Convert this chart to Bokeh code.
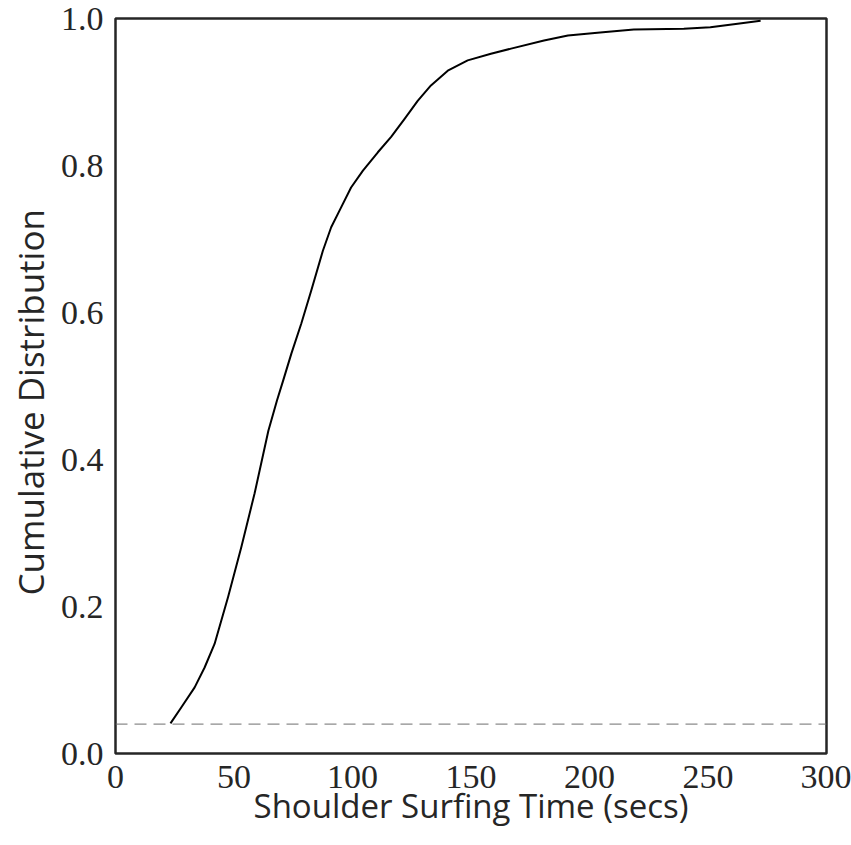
from bokeh.plotting import figure
from bokeh.models import Range1d, Span, FixedTicker, Title
from bokeh.embed import file_html
from bokeh.resources import INLINE

# Data
time_secs = [23.2, 27.8, 33.4, 37.6, 41.8, 47.5, 53.1, 58.7, 64.5, 68.1, 70.7,
             74.2, 78.4, 82.6, 87.5, 91.0, 95.2, 99.4, 104.4, 110.7, 116.3,
             121.9, 127.5, 133.1, 140.2, 148.6, 158.4, 166.9, 180.8, 190.9,
             204.5, 218.7, 239.8, 251.0, 262.5, 272.2]
cdf = [0.041, 0.063, 0.090, 0.117, 0.149, 0.213, 0.281, 0.354, 0.439, 0.480,
       0.507, 0.544, 0.585, 0.630, 0.684, 0.716, 0.743, 0.770, 0.793, 0.818,
       0.839, 0.863, 0.888, 0.909, 0.929, 0.943, 0.952, 0.959, 0.970, 0.977,
       0.981, 0.985, 0.986, 0.988, 0.993, 0.997]
baseline = 0.04
x_ticks = [0, 50, 100, 150, 200, 250, 300]
y_ticks = [0.0, 0.2, 0.4, 0.6, 0.8, 1.0]
x_label = "Shoulder Surfing Time (secs)"
y_label = "Cumulative Distribution"

p = figure(width=851, height=845, output_backend="svg", toolbar_location=None,
           x_range=Range1d(0, 300), y_range=Range1d(0, 1.0),
           min_border_left=114, min_border_right=25, min_border_top=18,
           min_border_bottom=92)

p.line(time_secs, cdf, line_color="black", line_width=2, line_join="round")
p.add_layout(Span(location=baseline, dimension="width", line_color="#6e6e6e",
                  line_width=1, line_dash="12 7"))

p.grid.visible = False
p.outline_line_color = "#262626"
p.outline_line_width = 2.5
p.background_fill_color = "white"
p.border_fill_color = "white"

p.xaxis.ticker = FixedTicker(ticks=x_ticks)
p.yaxis.ticker = FixedTicker(ticks=y_ticks)
p.yaxis.major_label_overrides = {t: f"{t:.1f}" for t in y_ticks}

for ax in (p.xaxis[0], p.yaxis[0]):
    ax.axis_line_color = None
    ax.major_tick_line_color = None
    ax.minor_tick_line_color = None
    ax.major_tick_out = 0
    ax.major_tick_in = 0
    ax.major_label_text_font = "Liberation Serif"
    ax.major_label_text_font_size = "34px"
    ax.major_label_text_color = "#262626"
    ax.axis_label_text_font = "Open Sans"
    ax.axis_label_text_font_style = "normal"
    ax.axis_label_text_color = "#262626"

p.xaxis.axis_label = x_label
p.xaxis.axis_label_text_font_size = "33px"
p.xaxis.major_label_standoff = 12
p.yaxis.major_label_standoff = 12
p.xaxis.axis_label_standoff = -8

# y label as a left-side title, anchored from the bottom of the frame
p.add_layout(Title(text=y_label, align="left", offset=158, standoff=8,
                   text_font="Open Sans", text_font_size="35px",
                   text_font_style="normal", text_color="#262626"), "left")

open("out.html", "w").write(file_html(p, INLINE))
